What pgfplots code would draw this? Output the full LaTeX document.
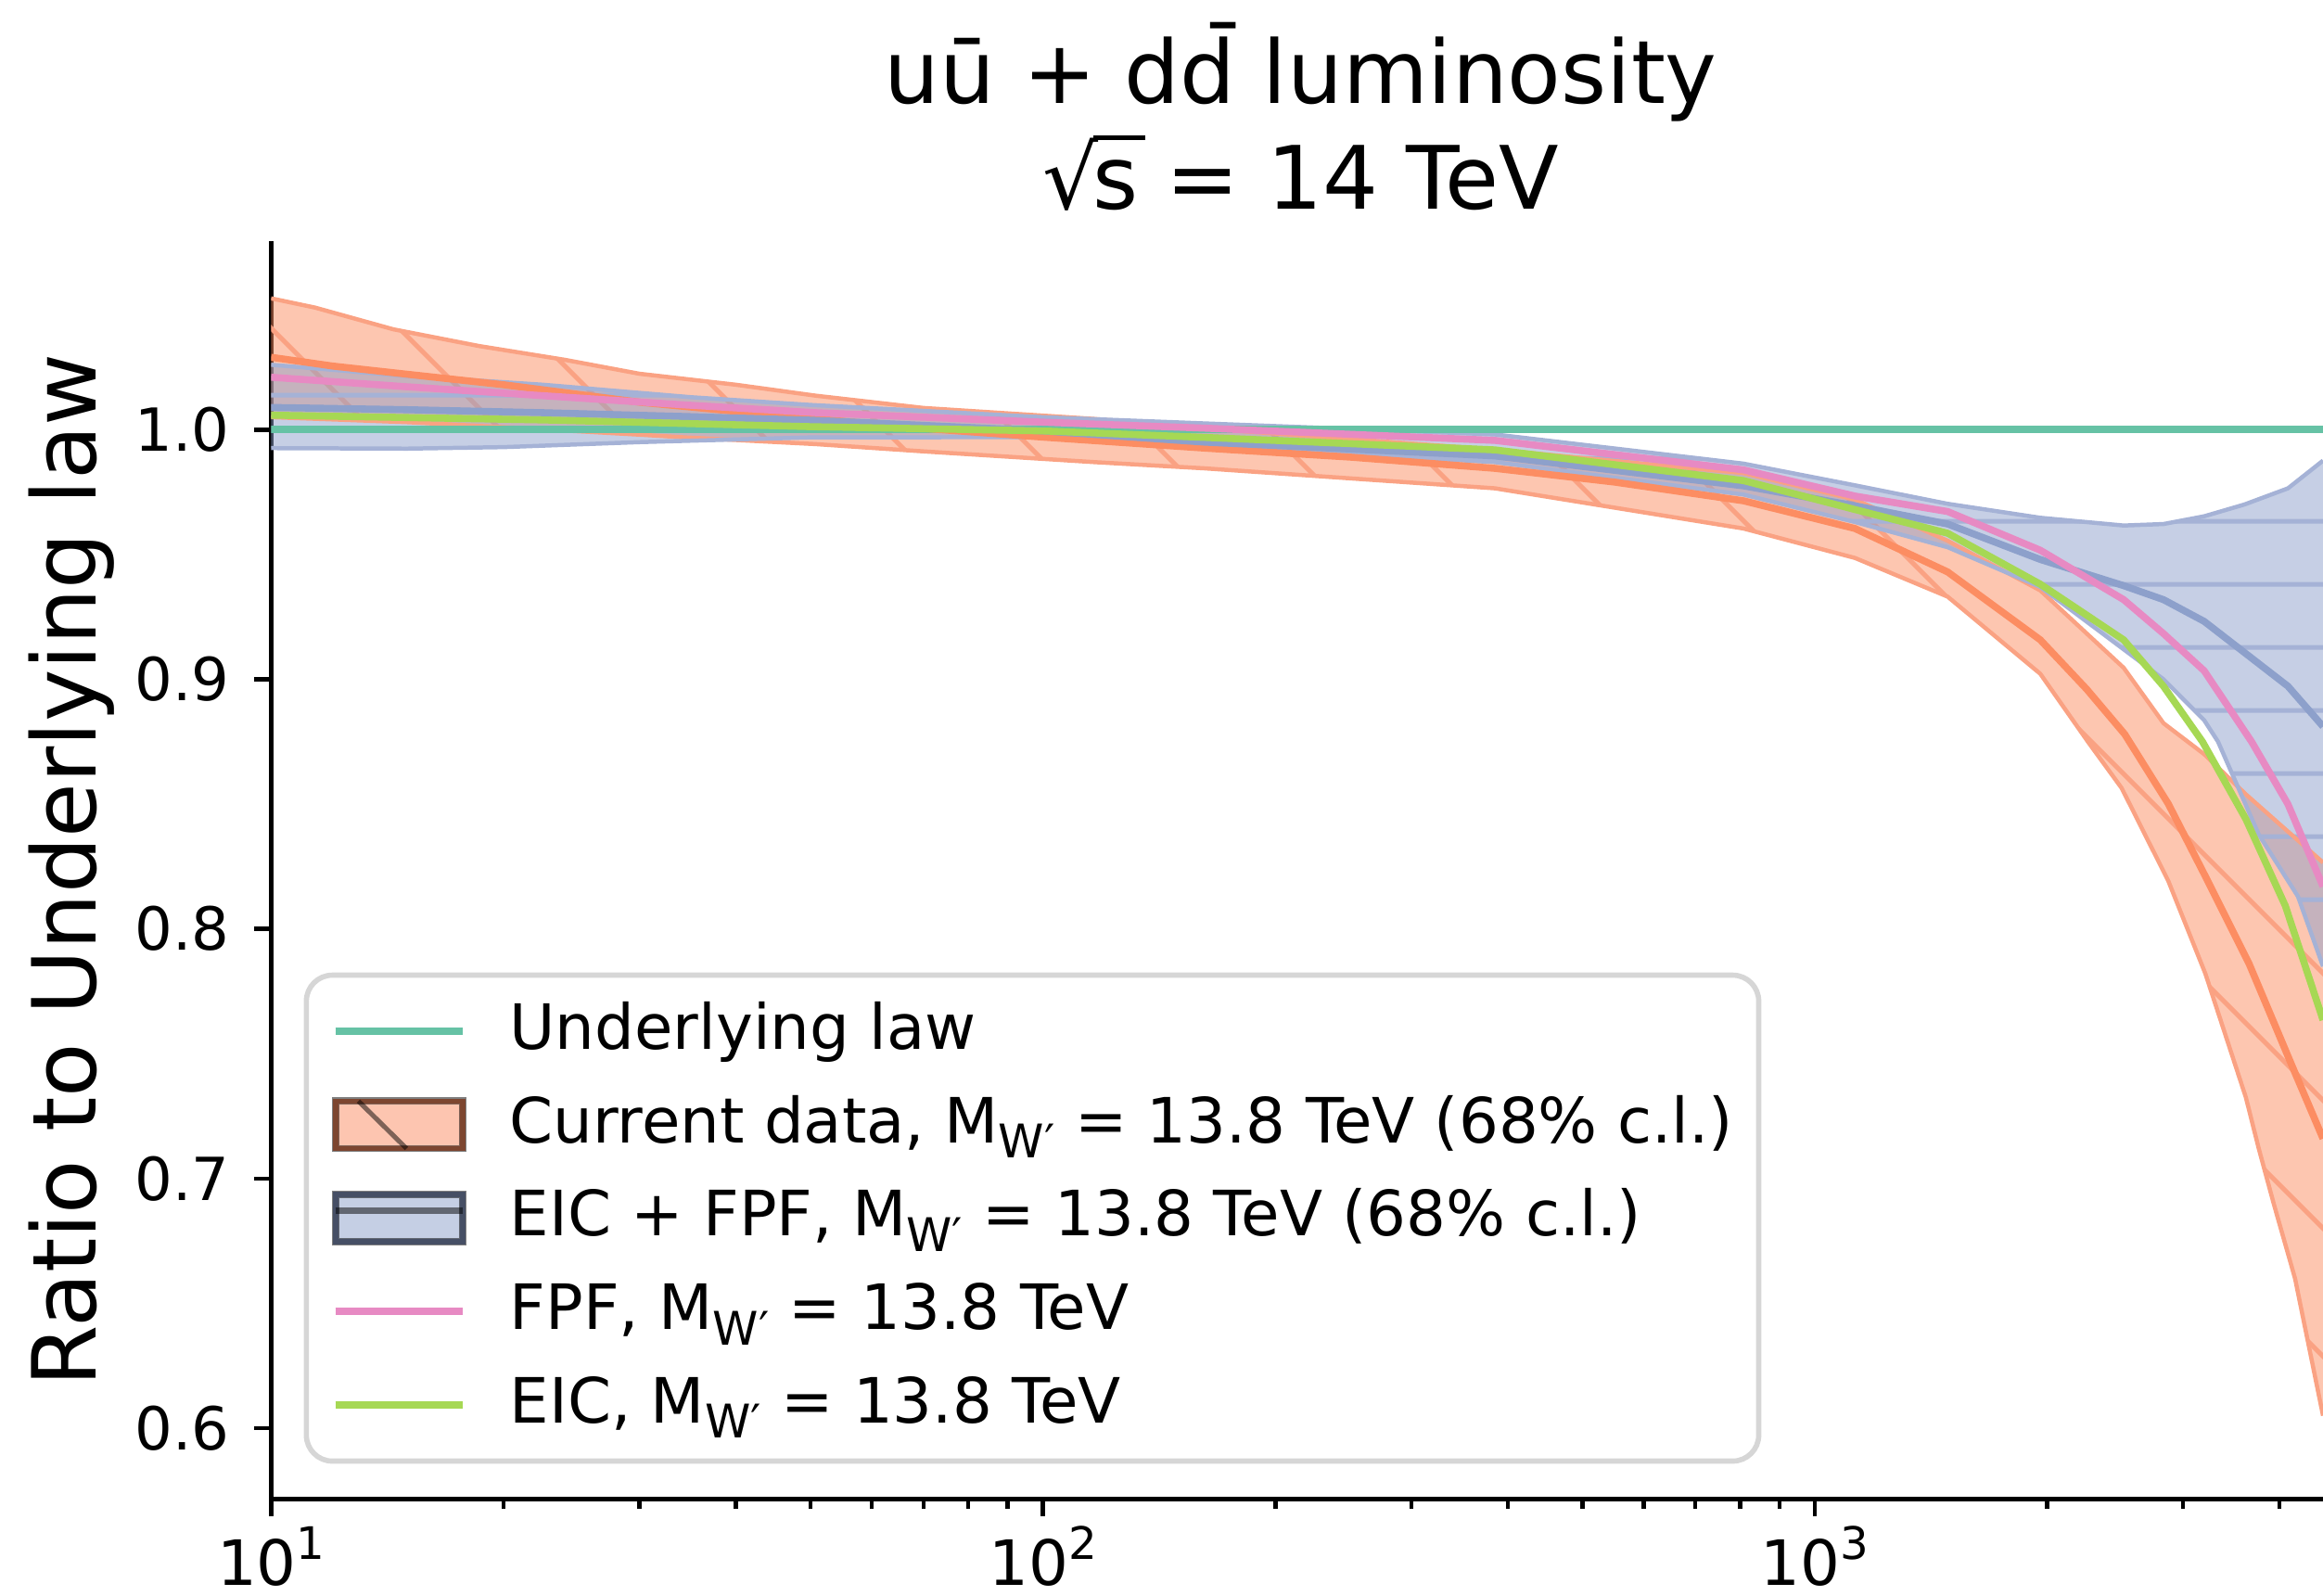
\documentclass[border=0pt]{standalone}
\usepackage{fontspec}
\setmainfont{DejaVu Sans}
\usepackage{pgfplots}
\pgfplotsset{compat=1.18}
\usepackage{pgfplotstable}
\usepgfplotslibrary{fillbetween}
\usetikzlibrary{patterns.meta}

\definecolor{cteal}{HTML}{66C2A5}
\definecolor{corange}{HTML}{FC8D62}
\definecolor{cblue}{HTML}{8DA0CB}
\definecolor{cpink}{HTML}{E78AC3}
\definecolor{cgreen}{HTML}{A6D854}
\definecolor{oedge}{HTML}{FAA283}
\definecolor{bedge}{HTML}{A5B2D6}
\definecolor{legframe}{HTML}{D6D6D6}

\newcommand{\sub}[1]{\raisebox{-0.25em}{\fontsize{8.9}{9}\selectfont #1}}
\newcommand{\tenpow}[1]{10\raisebox{0.42em}{\fontsize{8.6}{9}\selectfont #1}}
\newcommand{\sqrts}{√\kern-0.06em\rlap{\rule[0.79em]{0.60em}{0.055em}}s}

% Current data (orange)
\pgfplotstableread{
x y
10 1.0290
12 1.0255
15 1.0222
20 1.0180
30 1.0110
50 1.0045
70 1.0005
100 0.9970
162 0.9926
250 0.9890
385 0.9845
550 0.9790
808 0.9715
1127 0.9604
1486 0.9430
1959 0.9158
2250 0.8960
2520 0.8780
2870 0.8501
3206 0.8210
3655 0.7858
4153 0.7450
4553 0.7160
}\ocen
\pgfplotstableread{
x y
10 1.0526
11.4 1.0489
14.4 1.0402
18.6 1.0335
24 1.0280
30 1.0224
40 1.0180
50.8 1.0136
70 1.0087
116.5 1.0043
162 1.0005
385 0.9920
808 0.9826
1127 0.9720
1486 0.9555
1959 0.9356
2512 0.9046
2829 0.8824
3194 0.8700
3617 0.8539
4553 0.8266
}\oup
\pgfplotstableread{
x y
10 1.0050
15 1.0030
20 1.0010
30 0.9980
34.4 0.9969
50.8 0.9942
70 0.9913
116.5 0.9870
162 0.9845
385 0.9765
808 0.9604
1127 0.9486
1486 0.9331
1959 0.9022
2259 0.8749
2497 0.8564
2870 0.8192
3206 0.7820
3617 0.7325
3759 0.7120
3930 0.6900
4188 0.6600
4553 0.6050
}\olo
% EIC + FPF (blue)
\pgfplotstableread{
x y
10 1.0089
15 1.0080
22.5 1.0068
35 1.0052
50 1.0038
100 0.9995
162 0.9950
385 0.9895
808 0.9775
1127 0.9695
1486 0.9622
1959 0.9480
2512 0.9375
2829 0.9319
3194 0.9232
4101 0.8972
4553 0.8811
}\bcen
\pgfplotstableread{
x y
10 1.0260
15 1.0215
22.5 1.0180
35 1.0130
50 1.0099
100 1.0050
162 1.0025
385 0.9981
808 0.9864
1127 0.9777
1486 0.9703
1959 0.9647
2512 0.9616
2829 0.9622
3194 0.9653
3600 0.9700
4101 0.9765
4553 0.9876
}\bup
\pgfplotstableread{
x y
10 0.9926
15 0.9924
20 0.9930
30 0.9950
50 0.9969
100 0.9970
162 0.9935
385 0.9870
808 0.9740
1127 0.9630
1486 0.9529
1959 0.9370
2512 0.9120
2829 0.9000
3194 0.8836
3329 0.8750
3759 0.8378
4225 0.8130
4553 0.7850
}\blo
% FPF (pink)
\pgfplotstableread{
x y
10 1.0210
14.8 1.0173
22.5 1.0136
34.4 1.0099
50.8 1.0068
100 1.0030
162 1.0006
385 0.9957
808 0.9839
1127 0.9734
1486 0.9672
1959 0.9517
2512 0.9319
2829 0.9183
3194 0.9034
3681 0.8749
4100 0.8500
4553 0.8170
}\fpf
% EIC (green)
\pgfplotstableread{
x y
10 1.0058
22.5 1.0039
50 1.0012
100 0.9995
162 0.9969
385 0.9919
808 0.9796
1127 0.9680
1486 0.9585
1959 0.9381
2512 0.9158
2829 0.8972
3178 0.8750
3617 0.8440
4068 0.8093
4553 0.7635
}\eic

\begin{document}
\begin{tikzpicture}
\begin{axis}[
  at={(0,0)}, anchor=south west,
  scale only axis, width=13.85cm, height=8.49cm,
  xmode=log, xmin=10, xmax=4553, ymin=0.5715, ymax=1.0754,
  axis lines*=left,
  axis line style={black, line width=0.9pt},
  tick align=outside,
  major tick length=0.115cm, minor tick length=0.063cm,
  every tick/.style={black, line width=0.8pt},
  xtick={10,100,1000},
  xticklabels={\tenpow{1},\tenpow{2},\tenpow{3}},
  minor xtick={20,30,40,50,60,70,80,90,200,300,400,500,600,700,800,900,2000,3000,4000},
  ytick={0.6,0.7,0.8,0.9,1.0},
  yticklabels={0.6,0.7,0.8,0.9,1.0},
  xticklabel style={font=\fontsize{12}{14}\selectfont, inner sep=0pt, anchor=north},
  yticklabel style={font=\fontsize{11.4}{13}\selectfont, inner sep=0pt, anchor=east},
  xticklabel shift=0.06cm,
  yticklabel shift=0.16cm,
  legend style={at={(0.0159,0.0283)}, anchor=south west,
    draw=legframe, line width=1pt, rounded corners=5pt, fill=white,
    inner xsep=0.17cm, inner ysep=0.17cm, row sep=0.21cm, column sep=0.29cm,
    font=\fontsize{12}{14}\selectfont,
    nodes={inner sep=0pt, text height=0.33cm, text depth=0.09cm},
    cells={anchor=west}},
]
% legend entries
\addlegendimage{legend image code/.code={\draw[sharp corners, cteal, line width=1.5pt] (0cm,0cm) -- (0.86cm,0cm);}}
\addlegendentry{Underlying law}
\addlegendimage{legend image code/.code={
  \fill[sharp corners, corange, fill opacity=0.5] (0cm,-0.16cm) rectangle (0.86cm,0.16cm);
  \draw[sharp corners, black, draw opacity=0.5, line width=0.9pt] (0.155cm,0.16cm) -- (0.48cm,-0.16cm);
  \draw[sharp corners, black, draw opacity=0.5, line width=1.4pt] (0cm,-0.16cm) rectangle (0.86cm,0.16cm);}}
\addlegendentry{Current data, M\sub{W′} = 13.8 TeV (68\% c.l.)}
\addlegendimage{legend image code/.code={
  \fill[sharp corners, cblue, fill opacity=0.5] (0cm,-0.16cm) rectangle (0.86cm,0.16cm);
  \draw[sharp corners, black, draw opacity=0.5, line width=1.2pt] (0cm,0.05cm) -- (0.86cm,0.05cm);
  \draw[sharp corners, black, draw opacity=0.5, line width=1.4pt] (0cm,-0.16cm) rectangle (0.86cm,0.16cm);}}
\addlegendentry{EIC + FPF, M\sub{W′} = 13.8 TeV (68\% c.l.)}
\addlegendimage{legend image code/.code={\draw[sharp corners, cpink, line width=1.5pt] (0cm,0cm) -- (0.86cm,0cm);}}
\addlegendentry{FPF, M\sub{W′} = 13.8 TeV}
\addlegendimage{legend image code/.code={\draw[sharp corners, cgreen, line width=1.5pt] (0cm,0cm) -- (0.86cm,0cm);}}
\addlegendentry{EIC, M\sub{W′} = 13.8 TeV}

% orange band
\addplot[name path=OU, draw=none, forget plot] table[x=x,y=y] {\oup};
\addplot[name path=OL, draw=none, forget plot] table[x=x,y=y] {\olo};
\addplot[fill=corange, fill opacity=0.5, draw=none, forget plot] fill between[of=OU and OL];
\addplot[pattern={Lines[angle=-45,distance=6.15mm,line width=0.9pt]}, pattern color=oedge, draw=none, forget plot] fill between[of=OU and OL];
\addplot[oedge, line width=0.8pt, forget plot] table[x=x,y=y] {\oup};
\addplot[oedge, line width=0.8pt, forget plot] table[x=x,y=y] {\olo};

% blue band
\addplot[name path=BU, draw=none, forget plot] table[x=x,y=y] {\bup};
\addplot[name path=BL, draw=none, forget plot] table[x=x,y=y] {\blo};
\addplot[fill=cblue, fill opacity=0.5, draw=none, forget plot] fill between[of=BU and BL];
\addplot[pattern={Lines[angle=0,distance=4.28mm,line width=0.9pt]}, pattern color=bedge, draw=none, forget plot] fill between[of=BU and BL];
\addplot[bedge, line width=0.8pt, forget plot] table[x=x,y=y] {\bup};
\addplot[bedge, line width=0.8pt, forget plot] table[x=x,y=y] {\blo};

% lines
\addplot[cteal, line width=1.45pt, forget plot] coordinates {(10,1.0) (4553,1.0)};
\addplot[corange, line width=1.35pt, forget plot] table[x=x,y=y] {\ocen};
\addplot[cblue, line width=1.35pt, forget plot] table[x=x,y=y] {\bcen};
\addplot[cpink, line width=1.35pt, forget plot] table[x=x,y=y] {\fpf};
\addplot[cgreen, line width=1.35pt, forget plot] table[x=x,y=y] {\eic};
\end{axis}
\node[anchor=base, font=\fontsize{16.8}{20}\selectfont] at (6.95,9.42) {uū + dd̄ luminosity};
\node[anchor=base, font=\fontsize{16.8}{20}\selectfont] at (6.95,8.71) {\sqrts{} = 14 TeV};
\node[rotate=90, anchor=base, font=\fontsize{17}{20}\selectfont] at (-1.18,4.245) {Ratio to Underlying law};
\pgfresetboundingbox
\path[use as bounding box] (-1.83,-0.65) rectangle (13.85,10.12);
\end{tikzpicture}
\end{document}
